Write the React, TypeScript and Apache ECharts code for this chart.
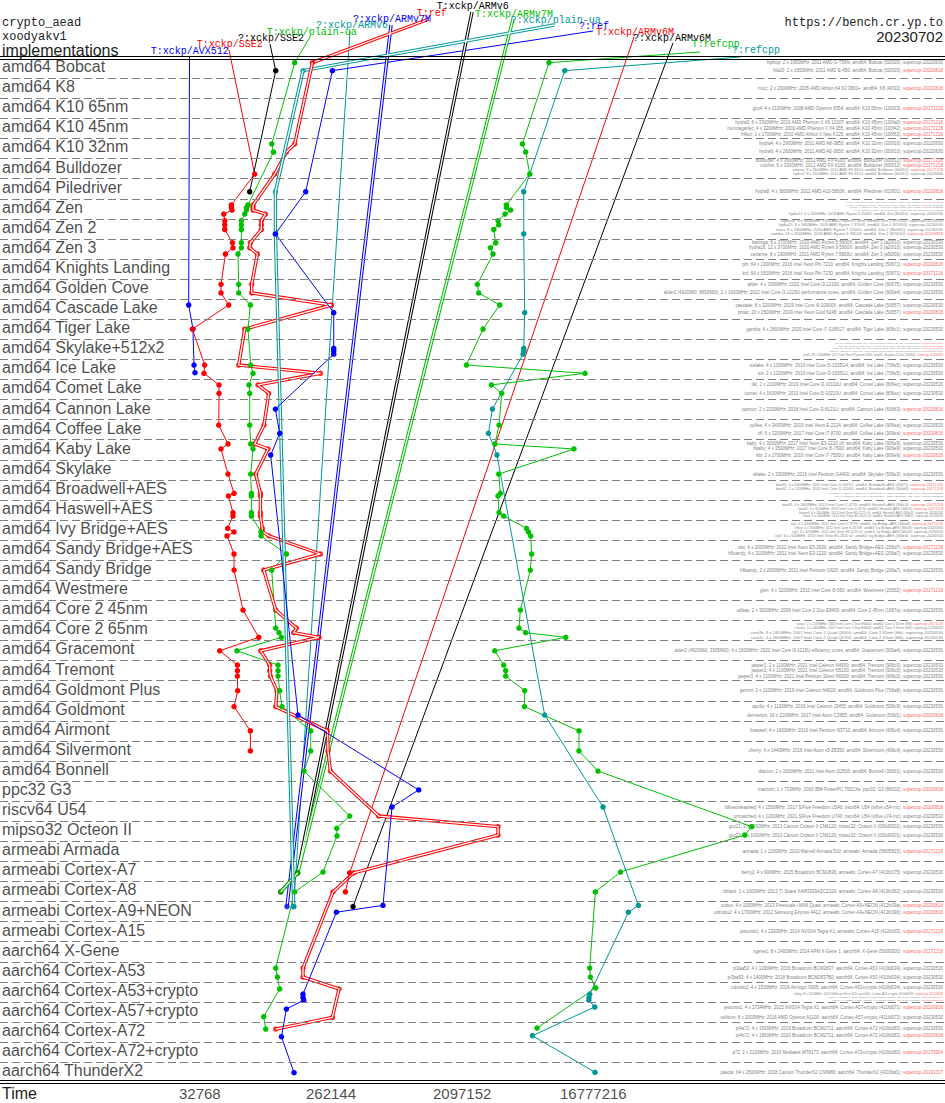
import React, { useEffect, useRef } from "react";
import * as echarts from "echarts";

const rowNames = [
  "amd64 Bobcat", "amd64 K8", "amd64 K10 65nm", "amd64 K10 45nm", "amd64 K10 32nm",
  "amd64 Bulldozer", "amd64 Piledriver", "amd64 Zen", "amd64 Zen 2", "amd64 Zen 3",
  "amd64 Knights Landing", "amd64 Golden Cove", "amd64 Cascade Lake", "amd64 Tiger Lake",
  "amd64 Skylake+512x2", "amd64 Ice Lake", "amd64 Comet Lake", "amd64 Cannon Lake",
  "amd64 Coffee Lake", "amd64 Kaby Lake", "amd64 Skylake", "amd64 Broadwell+AES",
  "amd64 Haswell+AES", "amd64 Ivy Bridge+AES", "amd64 Sandy Bridge+AES", "amd64 Sandy Bridge",
  "amd64 Westmere", "amd64 Core 2 45nm", "amd64 Core 2 65nm", "amd64 Gracemont",
  "amd64 Tremont", "amd64 Goldmont Plus", "amd64 Goldmont", "amd64 Airmont",
  "amd64 Silvermont", "amd64 Bonnell", "ppc32 G3", "riscv64 U54", "mipso32 Octeon II",
  "armeabi Armada", "armeabi Cortex-A7", "armeabi Cortex-A8", "armeabi Cortex-A9+NEON",
  "armeabi Cortex-A15", "aarch64 X-Gene", "aarch64 Cortex-A53", "aarch64 Cortex-A53+crypto",
  "aarch64 Cortex-A57+crypto", "aarch64 Cortex-A72", "aarch64 Cortex-A72+crypto",
  "aarch64 ThunderX2",
];

const timeTicks = [32768, 262144, 2097152, 16777216];

// [cycles, row position]
const tAvx512: [number, number][] = [[38400, 11.79], [41200, 12.99], [41900, 14.78], [42600, 15.16]];
const tSse2: [number, number][] = [
  [113200, 5.27], [77300, 6.81], [77300, 6.94], [78100, 7.06], [68200, 7.26], [69300, 7.59],
  [69300, 7.8], [69300, 8.03], [78600, 8.69], [79300, 8.94], [70100, 9.25], [65200, 10.76],
  [65200, 11.19], [73900, 11.79], [40800, 12.99], [49900, 14.78], [49300, 15.19], [63100, 15.77],
  [63100, 16.19], [62800, 17.77], [73100, 18.71], [65200, 18.96], [73100, 20.21], [80700, 21.17],
  [73600, 21.3], [79300, 22.13], [79300, 22.3], [72700, 22.91], [80700, 23.09], [71900, 23.29],
  [80700, 24.19], [80700, 24.99], [93500, 26.98], [120900, 28.34], [63800, 29.01], [85300, 29.72],
  [85300, 30.0], [85300, 30.27], [85700, 31.0], [80700, 31.79], [105500, 33.0], [105500, 34.0],
];
const qSse2: [number, number][] = [[159700, 0.12], [104300, 6.15]];
const tPlainUa: [number, number][] = [
  [217900, -0.28], [149600, 3.77], [153800, 4.17], [101400, 6.81], [98800, 6.94], [98800, 7.06],
  [96100, 7.26], [91000, 7.59], [91000, 7.8], [91000, 8.03], [91000, 8.69], [91000, 8.94],
  [86100, 9.25], [87100, 10.76], [87100, 11.19], [105500, 11.79], [101400, 12.99], [106000, 14.78],
  [110100, 15.19], [103100, 15.77], [104300, 16.19], [104300, 17.77], [106000, 18.71],
  [110100, 18.96], [106000, 20.21], [107200, 21.17], [107200, 21.3], [107200, 22.13],
  [107200, 22.3], [125500, 23.09], [125500, 23.29], [190200, 24.19], [149600, 24.99],
  [159700, 27.88], [168500, 28.11], [175300, 28.34], [84700, 29.01], [165800, 29.72],
  [165800, 30.0], [165800, 30.27], [170400, 31.0], [177000, 31.79], [283200, 33.0],
  [283200, 34.0], [253800, 35.0], [536500, 37.24], [433600, 37.85], [435700, 38.23],
  [346500, 40.03], [217900, 41.02], [159700, 44.81], [164200, 45.26], [170400, 45.85],
  [131200, 47.23], [135500, 47.85],
];
const qArmv6: [number, number][] = [[214400, 41.75]];
const qArmv7m: [number, number][] = [[192000, 41.75]];
const tRef: [number, number][] = [
  [291100, -0.28], [217900, 3.77], [190200, 4.17], [157100, 5.27], [110100, 6.81], [110100, 6.94],
  [110100, 7.06], [134900, 7.26], [126300, 7.59], [126300, 7.8], [126300, 8.03], [105500, 8.69],
  [104300, 8.94], [118300, 9.25], [107700, 10.76], [107700, 11.19], [397400, 11.79], [96100, 12.99],
  [87100, 14.78], [331900, 15.19], [119500, 15.77], [142400, 16.19], [131800, 17.77],
  [113200, 18.71], [140800, 18.96], [115100, 20.21], [124300, 21.17], [124300, 21.3],
  [124300, 22.13], [124300, 22.3], [128400, 22.91], [128400, 23.09], [143000, 23.29],
  [331900, 24.19], [131200, 24.99], [159700, 26.98], [224000, 27.88], [214400, 28.11],
  [324500, 28.34], [124800, 29.01], [144700, 29.72], [144700, 30.0], [146400, 30.27],
  [163100, 31.0], [159700, 31.79], [372300, 33.0], [376000, 34.0], [391100, 35.0],
  [862500, 37.24], [6086000, 37.77], [6086000, 38.19], [572500, 40.07], [407900, 41.02],
  [249600, 44.81], [249600, 45.26], [450100, 45.85], [404000, 47.27], [159700, 47.85],
];
const tArmv6: [number, number][] = [[228800, 40.07], [173300, 41.02]];
const tArmv7m: [number, number][] = [[229000, 40.07], [173300, 41.02]];
const qPlainUa: [number, number][] = [[249600, 0.12], [158900, 6.15], [158900, 8.25], [214400, 41.75]];
const qRef: [number, number][] = [
  [404000, 0.12], [260900, 6.15], [158900, 8.25], [412900, 12.17], [412900, 13.95],
  [412900, 14.08], [412900, 14.24], [158900, 16.97], [170400, 18.18], [147100, 19.26],
  [230000, 32.21], [1660000, 35.94], [1072000, 36.79], [925000, 41.69], [431300, 42.03],
  [249600, 46.11], [249600, 46.28], [252600, 46.41], [190200, 46.85], [175300, 48.23],
  [215500, 50.02],
];
const tArmv6m: [number, number][] = [[536500, 40.07], [499900, 41.02]];
const qArmv6m: [number, number][] = [[566200, 41.75]];
const tRefcpp: [number, number][] = [
  [14020000, -0.28], [9070000, 3.77], [9573000, 4.17], [10230000, 5.27], [6980000, 6.81],
  [6980000, 6.94], [7488000, 7.06], [6820000, 7.26], [6083000, 7.59], [6154000, 7.8],
  [5671000, 8.03], [5858000, 8.69], [5373000, 8.94], [5604000, 9.25], [4337000, 10.76],
  [4433000, 11.19], [6254000, 11.79], [4758000, 12.99], [3626000, 14.78], [25270000, 15.19],
  [5460000, 15.77], [6461000, 16.19], [6184000, 17.77], [5789000, 18.71], [21110000, 18.96],
  [6154000, 20.21], [6326000, 21.17], [6083000, 21.3], [6184000, 22.13], [6678000, 22.3],
  [9690000, 22.91], [10010000, 23.09], [10390000, 23.29], [10550000, 24.19], [10330000, 24.99],
  [8773000, 26.98], [8577000, 27.88], [9573000, 28.11], [18430000, 28.34], [5764000, 29.01],
  [6678000, 29.72], [6899000, 30.0], [6899000, 30.27], [9422000, 31.0], [9376000, 31.79],
  [22920000, 33.0], [22900000, 34.0], [31260000, 35.0], [387600000, 37.77],
  [345500000, 38.19], [45160000, 40.03], [29970000, 41.02], [27300000, 44.81],
  [27620000, 45.26], [30120000, 45.8], [11520000, 47.8],
];
const qRefcpp: [number, number][] = [
  [18130000, 0.12], [9270000, 6.15], [9270000, 8.25], [9422000, 12.17], [9270000, 13.95],
  [9270000, 14.08], [9167000, 14.24], [5551000, 16.97], [5198000, 18.18], [5983000, 19.26],
  [13060000, 32.21], [33950000, 36.79], [60600000, 41.69], [51470000, 42.03], [27300000, 46.11],
  [27000000, 46.28], [26900000, 46.41], [29630000, 46.75], [10690000, 48.18], [29780000, 50.0],
];

// machine notes: [row position, description, supercop version, older version]
const machineNotes: [number, string, string, boolean][] = [
  [-0.28, "hiphop; 2 x 1650MHz; 2011 AMD G-T56N; amd64; Bobcat (500f20); ", "supercop-20220630", false],
  [0.12, "hla20; 2 x 1650MHz; 2011 AMD E-450; amd64; Bobcat (500f20); ", "supercop-20200818", true],
  [1.0, "nucc; 2 x 2000MHz; 2005 AMD Athlon 64 X2 3800+; amd64; K8 (40f32); ", "supercop-20200818", true],
  [2.0, "gcc4; 4 x 2100MHz; 2008 AMD Opteron 8354; amd64; K10 65nm (100f23); ", "supercop-20171218", true],
  [2.7, "hydra3; 6 x 3300MHz; 2010 AMD Phenom II X6 1100T; amd64; K10 45nm (100fa0); ", "supercop-20171218", true],
  [3.0, "morotagarlec; 4 x 3200MHz; 2009 AMD Phenom II X4 955; amd64; K10 45nm (100f42); ", "supercop-20171218", true],
  [3.3, "h4lon; 1 x 1700MHz; 2010 AMD Athlon II Neo K125; amd64; K10 45nm (100f63); ", "supercop-20171218", true],
  [3.77, "hydra4; 4 x 2900MHz; 2011 AMD A8-3850; amd64; K10 32nm (300f10); ", "supercop-20220630", false],
  [4.17, "hydra6; 4 x 2600MHz; 2011 AMD A6-3650; amd64; K10 32nm (300f10); ", "supercop-20220630", false],
  [4.57, "bulldozer; 4 x 3600MHz; 2012 AMD FX-4100; amd64; Bulldozer (600f12); ", "supercop-20171218", true],
  [4.82, "colchis; 6 x 3300MHz; 2012 AMD FX-6100; amd64; Bulldozer (600f12); ", "supercop-20171218", true],
  [5.07, "valovar; 8 x 3600MHz; 2012 AMD FX-8150; amd64; Bulldozer (600f12); ", "supercop-20171218", true],
  [5.27, "hydra7; 8 x 3100MHz; 2012 AMD FX-8120; amd64; Bulldozer (600f12); ", "supercop-20220630", false],
  [6.15, "hydra8; 4 x 3800MHz; 2012 AMD A10-5800K; amd64; Piledriver (610f01); ", "supercop-20200818", true],
  [6.68, "ryzen; 8 x 3600MHz; 2017 AMD Ryzen 7 1800X; amd64; Zen (800f11); ", "supercop-20171218", true],
  [6.81, "hydra9; 8 x 3000MHz; 2017 AMD Ryzen 7 1700; amd64; Zen (800f11); ", "supercop-20230530", false],
  [6.94, "hydra10; 4 x 3100MHz; 2017 AMD Ryzen 3 1200; amd64; Zen (800f11); ", "supercop-20230530", false],
  [7.06, "zen; 6 x 3200MHz; 2017 AMD Ryzen 5 1600; amd64; Zen (800f11); ", "supercop-20230530", false],
  [7.26, "hydra12; 4 x 2000MHz; 2018 AMD Ryzen 5 2500U; amd64; Zen (810f10); ", "supercop-20230530", false],
  [7.59, "hydra14; 6 x 3600MHz; 2019 AMD Ryzen 5 3600; amd64; Zen 2 (870f10); ", "supercop-20230530", false],
  [7.8, "hydra15; 8 x 3600MHz; 2019 AMD Ryzen 7 3700X; amd64; Zen 2 (870f10); ", "supercop-20230530", false],
  [8.03, "nanu; 8 x 1800MHz; 2020 AMD Ryzen 7 4700U; amd64; Zen 2 (860f01); ", "supercop-20230530", false],
  [8.25, "samba; 16 x 3500MHz; 2019 AMD Ryzen 9 3950X; amd64; Zen 2 (870f10); ", "supercop-20200818", true],
  [8.69, "bazinga; 6 x 3700MHz; 2020 AMD Ryzen 5 5600X; amd64; Zen 3 (a20f10); ", "supercop-20230530", false],
  [8.94, "hydra16; 12 x 3700MHz; 2020 AMD Ryzen 9 5900X; amd64; Zen 3 (a20f10); ", "supercop-20230530", false],
  [9.25, "cezanne; 8 x 1900MHz; 2021 AMD Ryzen 7 5800U; amd64; Zen 3 (a50f00); ", "supercop-20230530", false],
  [9.75, "phi; 64 x 1300MHz; 2016 Intel Xeon Phi 7210; amd64; Knights Landing (50671); ", "supercop-20200818", true],
  [10.2, "knl; 64 x 1500MHz; 2016 Intel Xeon Phi 7230; amd64; Knights Landing (50671); ", "supercop-20171218", true],
  [10.76, "alder; 4 x 3300MHz; 2022 Intel Core i3-12100; amd64; Golden Cove (90675); ", "supercop-20230530", false],
  [11.19, "alder2 (4920960, 8650960); 2 x 1600MHz; 2022 Intel Core i3-1215U performance cores; amd64; Golden Cove (906a4); ", "supercop-20230530", false],
  [11.79, "cascade; 8 x 3200MHz; 2019 Intel Core i9-10900X; amd64; Cascade Lake (50657); ", "supercop-20230530", false],
  [12.17, "pmac; 20 x 2500MHz; 2019 Intel Xeon Gold 6248; amd64; Cascade Lake (50657); ", "supercop-20200818", true],
  [12.99, "gamba; 4 x 2800MHz; 2020 Intel Core i7-1165G7; amd64; Tiger Lake (806c1); ", "supercop-20230530", false],
  [13.7, "sky; 16 x 2100MHz; 2017 Intel Xeon Gold 6130; amd64; Skylake+512x2 (50654); ", "supercop-20171218", true],
  [13.83, "gold; 20 x 2400MHz; 2017 Intel Xeon Gold 6148; amd64; Skylake+512x2 (50654); ", "supercop-20171218", true],
  [13.95, "plat1; 24 x 2700MHz; 2017 Intel Xeon Platinum 8168; amd64; Skylake+512x2 (50654); ", "supercop-20200818", true],
  [14.08, "plat2; 26 x 2500MHz; 2017 Intel Xeon Platinum 8170; amd64; Skylake+512x2 (50654); ", "supercop-20200818", true],
  [14.24, "plat3; 28 x 2500MHz; 2017 Intel Xeon Platinum 8180; amd64; Skylake+512x2 (50654); ", "supercop-20200818", true],
  [14.78, "icelake; 4 x 1300MHz; 2019 Intel Core i5-1035G4; amd64; Ice Lake (706e5); ", "supercop-20230530", false],
  [15.19, "ice; 2 x 1200MHz; 2019 Intel Core i3-1005G1; amd64; Ice Lake (706e5); ", "supercop-20230530", false],
  [15.77, "tiki; 2 x 2100MHz; 2019 Intel Core i3-10110U; amd64; Comet Lake (806ec); ", "supercop-20230530", false],
  [16.19, "comet; 4 x 1600MHz; 2019 Intel Core i5-10210U; amd64; Comet Lake (806ec); ", "supercop-20230530", false],
  [16.97, "cannon; 2 x 2200MHz; 2018 Intel Core i3-8121U; amd64; Cannon Lake (60663); ", "supercop-20200818", true],
  [17.77, "coffee; 4 x 3400MHz; 2019 Intel Xeon E-2224; amd64; Coffee Lake (906ea); ", "supercop-20230530", false],
  [18.18, "cfl; 6 x 3200MHz; 2017 Intel Core i7-8700; amd64; Coffee Lake (906ea); ", "supercop-20200818", true],
  [18.71, "kaby; 4 x 3000MHz; 2017 Intel Xeon E3-1220 v6; amd64; Kaby Lake (906e9); ", "supercop-20230530", false],
  [18.96, "hkaby; 4 x 3500MHz; 2017 Intel Core i5-7600; amd64; Kaby Lake (906e9); ", "supercop-20230530", false],
  [19.26, "kbl; 2 x 2700MHz; 2016 Intel Core i7-7500U; amd64; Kaby Lake (806e9); ", "supercop-20200818", true],
  [20.21, "sklake; 2 x 3300MHz; 2015 Intel Pentium G4400; amd64; Skylake (506e3); ", "supercop-20230530", false],
  [20.75, "bwell1; 4 x 3400MHz; 2015 Intel Core i5-5675C; amd64; Broadwell+AES (40671); ", "supercop-20171218", true],
  [20.95, "bwell2; 2 x 2200MHz; 2015 Intel Core i5-5200U; amd64; Broadwell+AES (306d4); ", "supercop-20171218", true],
  [21.17, "broadwell; 4 x 2100MHz; 2016 Intel Xeon E5-2620 v4; amd64; Broadwell+AES (406f1); ", "supercop-20230530", false],
  [21.3, "bwx; 8 x 2100MHz; 2016 Intel Xeon E5-2620 v4; amd64; Broadwell+AES (406f1); ", "supercop-20230530", false],
  [21.75, "hwell1; 4 x 3400MHz; 2013 Intel Core i7-4770; amd64; Haswell+AES (306c3); ", "supercop-20171218", true],
  [21.95, "hwell2; 4 x 3200MHz; 2013 Intel Core i5-4570; amd64; Haswell+AES (306c3); ", "supercop-20171218", true],
  [22.13, "haswell; 4 x 3500MHz; 2013 Intel Xeon E3-1275 v3; amd64; Haswell+AES (306c3); ", "supercop-20230530", false],
  [22.3, "hswx; 6 x 2400MHz; 2014 Intel Xeon E5-2620 v3; amd64; Haswell+AES (306f2); ", "supercop-20230530", false],
  [22.72, "ivy1; 4 x 3400MHz; 2012 Intel Core i7-3770; amd64; Ivy Bridge+AES (306a9); ", "supercop-20171218", true],
  [22.91, "h9ivy; 4 x 3500MHz; 2012 Intel Core i5-3570K; amd64; Ivy Bridge+AES (306a9); ", "supercop-20230530", false],
  [23.09, "ivy2; 4 x 3200MHz; 2012 Intel Xeon E3-1225 v2; amd64; Ivy Bridge+AES (306a9); ", "supercop-20230530", false],
  [23.29, "ivy3; 6 x 2100MHz; 2013 Intel Xeon E5-2620 v2; amd64; Ivy Bridge+AES (306e4); ", "supercop-20230530", false],
  [23.85, "sbx; 6 x 2000MHz; 2012 Intel Xeon E5-2620; amd64; Sandy Bridge+AES (206d7); ", "supercop-20171218", true],
  [24.19, "h6sandy; 4 x 3100MHz; 2011 Intel Xeon E3-1220; amd64; Sandy Bridge+AES (206a7); ", "supercop-20230530", false],
  [24.99, "h8sandy; 2 x 2600MHz; 2011 Intel Pentium G620; amd64; Sandy Bridge (206a7); ", "supercop-20230530", false],
  [26.0, "glen; 4 x 3200MHz; 2010 Intel Core i5-650; amd64; Westmere (20652); ", "supercop-20171218", true],
  [26.98, "utilitas; 2 x 3000MHz; 2009 Intel Core 2 Duo E8400; amd64; Core 2 45nm (1067a); ", "supercop-20230530", false],
  [27.7, "latour; 2 x 2133MHz; 2006 Intel Core 2 Duo E6400; amd64; Core 2 65nm (6f6); ", "supercop-20171218", true],
  [27.88, "core2a; 2 x 2400MHz; 2007 Intel Core 2 Duo E6600; amd64; Core 2 65nm (6f6); ", "supercop-20230530", false],
  [28.11, "core2b; 4 x 2400MHz; 2007 Intel Core 2 Quad Q6600; amd64; Core 2 65nm (6fb); ", "supercop-20230530", false],
  [28.34, "core2c; 4 x 2666MHz; 2007 Intel Core 2 Quad Q6700; amd64; Core 2 65nm (6fb); ", "supercop-20230530", false],
  [29.01, "alder2 (4920960, 3305960); 4 x 1600MHz; 2022 Intel Core i3-1215U efficiency cores; amd64; Gracemont (906a4); ", "supercop-20230530", false],
  [29.72, "jasper1; 2 x 1100MHz; 2021 Intel Celeron N4500; amd64; Tremont (906c0); ", "supercop-20230530", false],
  [30.0, "jasper2; 4 x 1100MHz; 2021 Intel Celeron N5100; amd64; Tremont (906c0); ", "supercop-20230530", false],
  [30.27, "jasper3; 4 x 1100MHz; 2021 Intel Pentium Silver N6000; amd64; Tremont (906c0); ", "supercop-20230530", false],
  [31.0, "gemini; 2 x 1100MHz; 2019 Intel Celeron N4020; amd64; Goldmont Plus (706a8); ", "supercop-20230530", false],
  [31.79, "apollo; 4 x 1100MHz; 2016 Intel Celeron J3455; amd64; Goldmont (506c9); ", "supercop-20230530", false],
  [32.21, "denverton; 16 x 2100MHz; 2017 Intel Atom C3955; amd64; Goldmont (506f1); ", "supercop-20200818", true],
  [33.0, "braswell; 4 x 1600MHz; 2016 Intel Pentium N3710; amd64; Airmont (406c4); ", "supercop-20230530", false],
  [34.0, "cherry; 4 x 1440MHz; 2016 Intel Atom x5-Z8350; amd64; Silvermont (406c4); ", "supercop-20230530", false],
  [35.0, "diacom; 2 x 1600MHz; 2011 Intel Atom D2500; amd64; Bonnell (30661); ", "supercop-20230530", false],
  [35.94, "macmini; 1 x 733MHz; 2000 IBM PowerPC 750CXe; ppc32; G3 (88302); ", "supercop-20200818", true],
  [36.79, "hifiveunleashed; 4 x 1500MHz; 2017 SiFive Freedom U540; riscv64; U54 (sifive,u54-mc); ", "supercop-20200818", true],
  [37.24, "unmatched; 4 x 1200MHz; 2021 SiFive Freedom U740; riscv64; U54 (sifive,u74-mc); ", "supercop-20230530", false],
  [37.77, "gcc21; 2 x 1000MHz; 2013 Cavium Octeon II CN6120; mipso32; Octeon II (000d9301); ", "supercop-20230530", false],
  [38.19, "gcc22; 2 x 1000MHz; 2013 Cavium Octeon II CN6120; mipso32; Octeon II (000d9301); ", "supercop-20230530", false],
  [39.0, "armada; 1 x 1200MHz; 2010 Marvell Armada 510; armeabi; Armada (560f5815); ", "supercop-20171218", true],
  [40.03, "berry2; 4 x 900MHz; 2015 Broadcom BCM2836; armeabi; Cortex-A7 (410fc075); ", "supercop-20230530", false],
  [41.02, "bblack; 1 x 1000MHz; 2013 TI Sitara XAM3359AZCZ100; armeabi; Cortex-A8 (413fc082); ", "supercop-20230530", false],
  [41.69, "cubox; 4 x 1000MHz; 2013 Freescale i.MX6 Quad; armeabi; Cortex-A9+NEON (412fc09a); ", "supercop-20200818", true],
  [42.03, "odroidu2; 4 x 1700MHz; 2012 Samsung Exynos 4412; armeabi; Cortex-A9+NEON (413fc090); ", "supercop-20200818", true],
  [43.0, "jetsontk1; 4 x 2300MHz; 2014 NVIDIA Tegra K1; armeabi; Cortex-A15 (412fc0f3); ", "supercop-20171218", true],
  [44.0, "xgene1; 8 x 2400MHz; 2014 APM X-Gene 1; aarch64; X-Gene (500f0000); ", "supercop-20171218", true],
  [44.81, "pi3aa53; 4 x 1200MHz; 2016 Broadcom BCM2837; aarch64; Cortex-A53 (410fd034); ", "supercop-20230530", false],
  [45.26, "pi3ba53; 4 x 1400MHz; 2018 Broadcom BCM2837B0; aarch64; Cortex-A53 (410fd034); ", "supercop-20230530", false],
  [45.8, "odroidc2; 4 x 1536MHz; 2016 Amlogic S905; aarch64; Cortex-A53+crypto (410fd034); ", "supercop-20230530", false],
  [46.11, "hikey; 8 x 1200MHz; 2015 HiSilicon Kirin 620; aarch64; Cortex-A53+crypto (410fd033); ", "supercop-20200818", true],
  [46.28, "rock64; 4 x 1512MHz; 2017 Rockchip RK3328; aarch64; Cortex-A53+crypto (410fd034); ", "supercop-20200818", true],
  [46.41, "pine64; 4 x 1152MHz; 2016 Allwinner A64; aarch64; Cortex-A53+crypto (410fd034); ", "supercop-20200818", true],
  [46.75, "jetsontx1; 4 x 1734MHz; 2015 NVIDIA Tegra X1; aarch64; Cortex-A57+crypto (411fd071); ", "supercop-20200818", true],
  [47.27, "softiron; 8 x 2000MHz; 2016 AMD Opteron A1100; aarch64; Cortex-A57+crypto (411fd072); ", "supercop-20230530", false],
  [47.8, "pi4a72; 4 x 1500MHz; 2019 Broadcom BCM2711; aarch64; Cortex-A72 (410fd083); ", "supercop-20230530", false],
  [48.18, "pi4b72; 4 x 1800MHz; 2020 Broadcom BCM2711; aarch64; Cortex-A72 (410fd083); ", "supercop-20200818", true],
  [49.0, "a72; 2 x 2100MHz; 2016 Mediatek MT8173; aarch64; Cortex-A72+crypto (410fd080); ", "supercop-20170904", true],
  [50.0, "pascal; 64 x 2500MHz; 2018 Cavium ThunderX2 CN9980; aarch64; ThunderX2 (431f0af1); ", "supercop-20191017", true],
];

const BLUE = "#0000ff", RED = "#ff0000", BLACK = "#000000", GREEN = "#00c000", TEAL = "#009999";

type Def = { name: string; color: string; dbl: boolean; data: [number, number][]; lab: [number, number]; lead: [number, number] };
const defs: Def[] = [
  { name: "T:xckp/AVX512", color: BLUE, dbl: false, data: tAvx512, lab: [150.7, 51], lead: [189.5, 56] },
  { name: "T:xckp/SSE2", color: RED, dbl: false, data: tSse2, lab: [196.7, 44.7], lead: [229, 50] },
  { name: "?:xckp/SSE2", color: BLACK, dbl: false, data: qSse2, lab: [238, 38.4], lead: [270, 44] },
  { name: "T:xckp/plain-ua", color: GREEN, dbl: false, data: tPlainUa, lab: [266.7, 32.1], lead: [310, 37] },
  { name: "?:xckp/ARMv6", color: TEAL, dbl: false, data: qArmv6, lab: [316, 25.8], lead: [350, 31] },
  { name: "?:xckp/ARMv7M", color: BLUE, dbl: true, data: qArmv7m, lab: [353, 19.5], lead: [391, 25] },
  { name: "T:ref", color: RED, dbl: true, data: tRef, lab: [416.7, 13.2], lead: [429, 19] },
  { name: "T:xckp/ARMv6", color: BLACK, dbl: true, data: tArmv6, lab: [436.7, 6.9], lead: [472, 12] },
  { name: "T:xckp/ARMv7M", color: GREEN, dbl: true, data: tArmv7m, lab: [475, 14], lead: [513, 19] },
  { name: "?:xckp/plain-ua", color: TEAL, dbl: true, data: qPlainUa, lab: [510.7, 20.1], lead: [554, 25] },
  { name: "?:ref", color: BLUE, dbl: false, data: qRef, lab: [579, 26.2], lead: [593, 31] },
  { name: "T:xckp/ARMv6M", color: RED, dbl: false, data: tArmv6m, lab: [596, 32.3], lead: [634, 37] },
  { name: "?:xckp/ARMv6M", color: BLACK, dbl: false, data: qArmv6m, lab: [633, 38.4], lead: [673, 43] },
  { name: "T:refcpp", color: GREEN, dbl: false, data: tRefcpp, lab: [691.7, 44.5], lead: [700, 52] },
  { name: "?:refcpp", color: TEAL, dbl: false, data: qRefcpp, lab: [732, 50.6], lead: [740, 57] },
];

const W = 945, H = 1103;
const X_MIN = Math.pow(2, 10.7713);
const X_MAX = Math.pow(2, 33.096);
const X_RIGHT = Math.pow(2, 33.05);
const ROW0 = 68.26, ROWH = 20.08;
const Y_MIN = -ROW0 / ROWH;
const Y_MAX = (H - ROW0) / ROWH;
const py = (p: number) => (p - ROW0) / ROWH;

export default function App() {
  const ref = useRef<HTMLDivElement>(null);
  useEffect(() => {
    document.body.style.margin = "0";
    const chart = echarts.init(ref.current!, null, { renderer: "svg" });
    const series: any[] = [];
    const dashed = [];
    for (let k = 0; k < rowNames.length - 1; k++) dashed.push({ yAxis: k + 0.5 });
    series.push({
      type: "line", data: [], silent: true,
      markLine: {
        silent: true, symbol: "none", label: { show: false },
        lineStyle: { type: [8, 4], color: "#808080", width: 1 },
        data: dashed,
      },
    });
    series.push({
      type: "line", data: [], silent: true,
      markLine: {
        silent: true, symbol: "none", label: { show: false },
        lineStyle: { type: "solid", color: "#000", width: 1.2 },
        data: [py(56.3), py(59.3), py(1080.6), py(1083.6)].map((v) => ({ yAxis: v })),
      },
    });
    const notePos = machineNotes.map((m) => m[0]);
    series.push({
      type: "scatter", symbolSize: 0, clip: false, silent: true,
      data: machineNotes.map((m, i) => {
        const prev = i > 0 ? m[0] - notePos[i - 1] : 1;
        const next = i < notePos.length - 1 ? notePos[i + 1] - m[0] : 1;
        const gap = Math.min(prev, next) * ROWH;
        const fs = Math.max(2.3, Math.min(4.5, gap * 0.92));
        return {
          value: [X_RIGHT, m[0]],
          label: { rich: { a: { fontSize: fs, lineHeight: fs }, r: { fontSize: fs, lineHeight: fs } } },
        };
      }),
      label: {
        show: true, position: "left", distance: 0,
        formatter: (p: any) => {
          const m = machineNotes[p.dataIndex];
          return "{a|" + m[1] + "}{" + (m[3] ? "r" : "a") + "|" + m[2] + "}";
        },
        rich: {
          a: { fontFamily: "Liberation Sans", fontSize: 4.5, color: "#555" },
          r: { fontFamily: "Liberation Sans", fontSize: 4.5, color: "#ff3030" },
        },
      },
    });
    defs.forEach((d) => {
      if (d.dbl) {
        series.push({ type: "line", name: d.name, data: d.data, showSymbol: false, symbol: "none", lineStyle: { color: d.color, width: 3.4 }, silent: true });
        series.push({ type: "line", data: d.data, showSymbol: false, symbol: "none", lineStyle: { color: "#fff", width: 1.3 }, silent: true });
        series.push({ type: "scatter", data: d.data, symbol: "circle", symbolSize: 5.5, itemStyle: { color: d.color }, silent: true });
      } else {
        series.push({
          type: "line", name: d.name, data: d.data, symbol: "circle", symbolSize: 5.5, showSymbol: true,
          itemStyle: { color: d.color }, lineStyle: { color: d.color, width: 1 }, silent: true,
        });
      }
    });
    series.push({
      type: "scatter", data: rowNames.map((_, k) => [X_MIN, k - 0.08]), symbolSize: 0, clip: false, silent: true,
      label: {
        show: true, position: "right", distance: 2,
        formatter: (p: any) => rowNames[p.dataIndex],
        fontFamily: "Liberation Sans", fontSize: 16, color: "#1a1a1a",
      },
    });
    series.push({
      type: "scatter", data: timeTicks.map((t) => [t, py(1093)]), symbolSize: 0, clip: false, silent: true,
      label: {
        show: true, position: "right", distance: 0,
        formatter: (p: any) => String(timeTicks[p.dataIndex]),
        fontFamily: "Liberation Sans", fontSize: 15, color: "#1a1a1a",
      },
    });
    chart.setOption({
      animation: false,
      grid: { left: 0, right: 0, top: 0, bottom: 0, containLabel: false },
      xAxis: { type: "log", logBase: 2, min: X_MIN, max: X_MAX, show: false },
      yAxis: { type: "value", inverse: true, min: Y_MIN, max: Y_MAX, show: false },
      series,
    });
    const g: any[] = [];
    const txt = (text: string, x: number, y: number, font: string, fill: string, align = "left") => ({
      type: "text", x, y, silent: true, z: 100,
      style: { text, fill, font, align, textAlign: align, verticalAlign: "middle", textVerticalAlign: "middle" },
    });
    g.push(txt("crypto_aead", 2, 23, '12px "Liberation Mono"', "#222"));
    g.push(txt("xoodyakv1", 2, 37, '12px "Liberation Mono"', "#222"));
    g.push(txt("implementations", 2, 50, '16px "Liberation Sans"', "#222"));
    g.push(txt("https://bench.cr.yp.to", 943, 23, '12px "Liberation Mono"', "#222", "right"));
    g.push(txt("20230702", 943, 36, '15px "Liberation Sans"', "#222", "right"));
    g.push(txt("Time", 2, 1093, '16px "Liberation Sans"', "#222"));
    defs.forEach((d) => {
      const p = chart.convertToPixel({ gridIndex: 0 }, d.data[0]) as number[];
      const shape = { x1: d.lead[0], y1: d.lead[1], x2: p[0], y2: p[1] };
      if (d.dbl) {
        g.push({ type: "line", shape, silent: true, z: 1, style: { stroke: d.color, lineWidth: 3.4 } });
        g.push({ type: "line", shape, silent: true, z: 2, style: { stroke: "#fff", lineWidth: 1.3 } });
      } else {
        g.push({ type: "line", shape, silent: true, z: 1, style: { stroke: d.color, lineWidth: 1 } });
      }
      g.push(txt(d.name, d.lab[0], d.lab[1], '10px "Liberation Mono"', d.color));
    });
    chart.setOption({ graphic: g });
    return () => chart.dispose();
  }, []);
  return <div ref={ref} style={{ width: W, height: H }} />;
}
